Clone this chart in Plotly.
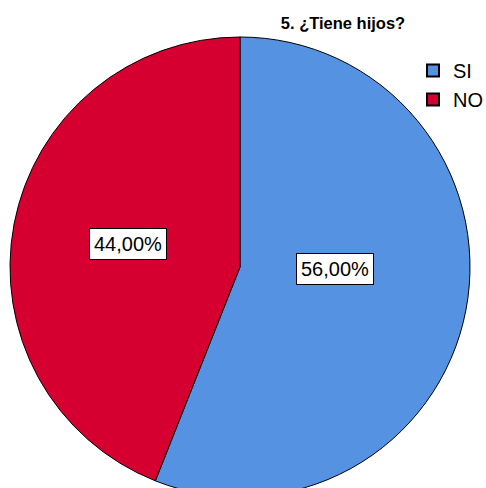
import plotly.graph_objects as go

labels = ["SI", "NO"]
values = [56.0, 44.0]
colors = ["#5592E2", "#D5002F"]
title_text = "5. ¿Tiene hijos?"

W = 486
H = 498  # page is clipped at 488 by the viewport, as the reference pie is cut at the bottom

fig = go.Figure()
fig.add_trace(go.Pie(
    labels=labels,
    values=values,
    sort=False,
    direction="clockwise",
    rotation=0,
    marker=dict(colors=colors, line=dict(color="#000000", width=1)),
    textinfo="none",
    hoverinfo="label+percent",
    domain=dict(x=[(240 - 230) / W, (240 + 230) / W], y=[(H - 37 - 460) / H, (H - 37) / H]),
    showlegend=True,
))

# percent label boxes
label_pos = [(335 / W, 1 - 268.5 / H), (128 / W, 1 - 244 / H)]
total = sum(values)
for v, (px, py) in zip(values, label_pos):
    txt = f"{v / total * 100:.2f}%".replace(".", ",")
    fig.add_annotation(
        x=px, y=py, xref="paper", yref="paper",
        text=txt, showarrow=False,
        font=dict(family="Liberation Sans, Arial, sans-serif", size=20, color="#000000"),
        bgcolor="#FFFFFF", bordercolor="#000000", borderwidth=1, borderpad=4,
        xanchor="center", yanchor="middle",
    )

fig.update_layout(
    width=W, height=H,
    margin=dict(l=0, r=0, t=0, b=0, autoexpand=False),
    paper_bgcolor="#FFFFFF",
    plot_bgcolor="#FFFFFF",
    title=dict(
        text="<b>" + title_text + "</b>",
        x=343 / W, xanchor="center",
        y=1 - 23.5 / H, yanchor="middle",
        font=dict(family="Liberation Sans, Arial, sans-serif", size=16.5, color="#000000"),
    ),
    legend=dict(
        x=413 / W, xanchor="left",
        y=1 - 51 / H, yanchor="top",
        font=dict(family="Liberation Sans, Arial, sans-serif", size=20, color="#000000"),
        bgcolor="rgba(0,0,0,0)",
        tracegroupgap=0,
        itemsizing="constant",
    ),
)

fig.write_html(
    "out.html",
    config={"displayModeBar": False},
    post_script="document.body.style.margin='0';document.body.style.overflow='hidden';",
)
